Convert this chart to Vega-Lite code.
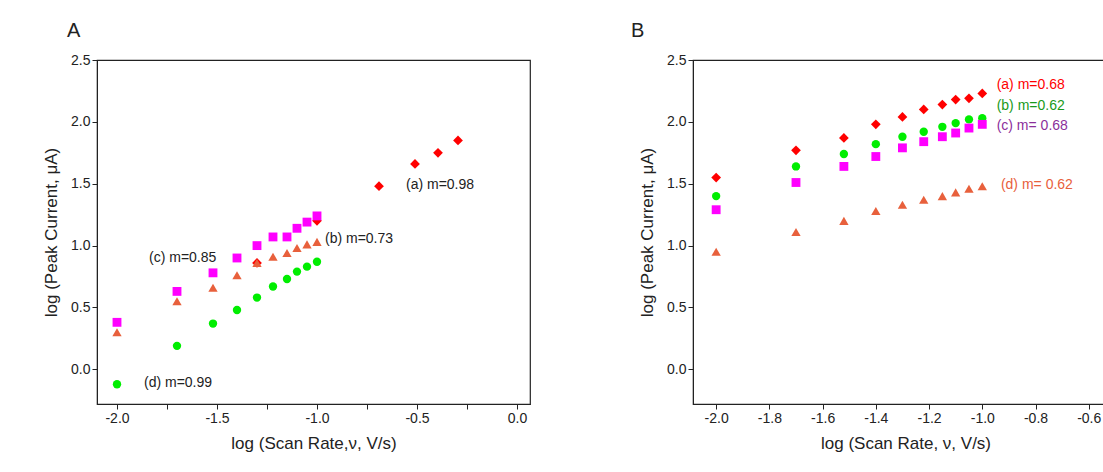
{
  "$schema": "https://vega.github.io/schema/vega-lite/v6.json",
  "background": "white",
  "padding": {"left": 41, "top": 20, "right": 0, "bottom": 5},
  "config": {
    "font": "Liberation Sans",
    "view": {"stroke": "#222", "strokeWidth": 1.2},
    "axis": {"grid": false, "labelOverlap": false, "labelFlush": false, "domainColor": "#222", "tickColor": "#222", "labelColor": "#222", "titleColor": "#222", "labelFontSize": 14, "titleFontSize": 17, "titleFontWeight": "normal", "tickSize": 5},
    "title": {"fontSize": 20, "fontWeight": "normal", "anchor": "start", "frame": "group", "color": "#222"}
  },
  "datasets": {
    "a": [
      {"s": "a", "x": -1.3, "y": 0.86}, {"s": "a", "x": -1.0, "y": 1.2}, {"s": "a", "x": -0.69, "y": 1.48}, {"s": "a", "x": -0.51, "y": 1.66}, {"s": "a", "x": -0.395, "y": 1.75}, {"s": "a", "x": -0.295, "y": 1.85},
      {"s": "c", "x": -2.0, "y": 0.38}, {"s": "c", "x": -1.7, "y": 0.63}, {"s": "c", "x": -1.52, "y": 0.78}, {"s": "c", "x": -1.4, "y": 0.9}, {"s": "c", "x": -1.3, "y": 1.0}, {"s": "c", "x": -1.22, "y": 1.07}, {"s": "c", "x": -1.15, "y": 1.07}, {"s": "c", "x": -1.1, "y": 1.14}, {"s": "c", "x": -1.05, "y": 1.19}, {"s": "c", "x": -1.0, "y": 1.24},
      {"s": "b", "x": -2.0, "y": 0.3}, {"s": "b", "x": -1.7, "y": 0.55}, {"s": "b", "x": -1.52, "y": 0.66}, {"s": "b", "x": -1.4, "y": 0.76}, {"s": "b", "x": -1.3, "y": 0.86}, {"s": "b", "x": -1.22, "y": 0.91}, {"s": "b", "x": -1.15, "y": 0.94}, {"s": "b", "x": -1.1, "y": 0.98}, {"s": "b", "x": -1.05, "y": 1.01}, {"s": "b", "x": -1.0, "y": 1.03},
      {"s": "d", "x": -2.0, "y": -0.12}, {"s": "d", "x": -1.7, "y": 0.19}, {"s": "d", "x": -1.52, "y": 0.37}, {"s": "d", "x": -1.4, "y": 0.48}, {"s": "d", "x": -1.3, "y": 0.58}, {"s": "d", "x": -1.22, "y": 0.67}, {"s": "d", "x": -1.15, "y": 0.73}, {"s": "d", "x": -1.1, "y": 0.79}, {"s": "d", "x": -1.05, "y": 0.83}, {"s": "d", "x": -1.0, "y": 0.87}
    ],
    "aLabels": [
      {"t": "(a) m=0.98", "x": -0.555, "y": 1.49},
      {"t": "(b) m=0.73", "x": -0.96, "y": 1.05},
      {"t": "(c) m=0.85", "x": -1.84, "y": 0.9},
      {"t": "(d) m=0.99", "x": -1.865, "y": -0.11}
    ],
    "b": [
      {"s": "a", "x": -2.0, "y": 1.55}, {"s": "a", "x": -1.7, "y": 1.77}, {"s": "a", "x": -1.52, "y": 1.87}, {"s": "a", "x": -1.4, "y": 1.98}, {"s": "a", "x": -1.3, "y": 2.04}, {"s": "a", "x": -1.22, "y": 2.1}, {"s": "a", "x": -1.15, "y": 2.14}, {"s": "a", "x": -1.1, "y": 2.18}, {"s": "a", "x": -1.05, "y": 2.19}, {"s": "a", "x": -1.0, "y": 2.23},
      {"s": "d", "x": -2.0, "y": 1.4}, {"s": "d", "x": -1.7, "y": 1.64}, {"s": "d", "x": -1.52, "y": 1.74}, {"s": "d", "x": -1.4, "y": 1.82}, {"s": "d", "x": -1.3, "y": 1.88}, {"s": "d", "x": -1.22, "y": 1.92}, {"s": "d", "x": -1.15, "y": 1.96}, {"s": "d", "x": -1.1, "y": 1.99}, {"s": "d", "x": -1.05, "y": 2.02}, {"s": "d", "x": -1.0, "y": 2.03},
      {"s": "c", "x": -2.0, "y": 1.29}, {"s": "c", "x": -1.7, "y": 1.51}, {"s": "c", "x": -1.52, "y": 1.64}, {"s": "c", "x": -1.4, "y": 1.72}, {"s": "c", "x": -1.3, "y": 1.79}, {"s": "c", "x": -1.22, "y": 1.84}, {"s": "c", "x": -1.15, "y": 1.88}, {"s": "c", "x": -1.1, "y": 1.91}, {"s": "c", "x": -1.05, "y": 1.95}, {"s": "c", "x": -1.0, "y": 1.98},
      {"s": "b", "x": -2.0, "y": 0.95}, {"s": "b", "x": -1.7, "y": 1.11}, {"s": "b", "x": -1.52, "y": 1.2}, {"s": "b", "x": -1.4, "y": 1.28}, {"s": "b", "x": -1.3, "y": 1.33}, {"s": "b", "x": -1.22, "y": 1.37}, {"s": "b", "x": -1.15, "y": 1.4}, {"s": "b", "x": -1.1, "y": 1.43}, {"s": "b", "x": -1.05, "y": 1.46}, {"s": "b", "x": -1.0, "y": 1.48}
    ],
    "bLabels": [
      {"t": "(a) m=0.68", "x": -0.946, "y": 2.3, "c": "a"},
      {"t": "(b) m=0.62", "x": -0.946, "y": 2.13, "c": "b"},
      {"t": "(c) m= 0.68", "x": -0.946, "y": 1.97, "c": "c"},
      {"t": "(d) m= 0.62", "x": -0.93, "y": 1.49, "c": "d"}
    ]
  },
  "hconcat": [
    {
      "title": {"text": "A", "dx": -30, "dy": -8},
      "width": 433,
      "height": 344,
      "layer": [
        {
          "data": {"name": "a"},
          "mark": {"type": "point", "filled": true, "opacity": 1},
          "encoding": {
            "x": {"field": "x", "type": "quantitative", "scale": {"domain": [-2.1, 0.065], "nice": false, "zero": false}, "axis": {"title": "log (Scan Rate,ν, V/s)", "values": [-2, -1.75, -1.5, -1.25, -1, -0.75, -0.5, -0.25, 0], "labelExpr": "abs(datum.value * 2 - round(datum.value * 2)) < 0.001 ? replace(format(datum.value, '.1f'), '−', '-') : ''", "titlePadding": 10}},
            "y": {"field": "y", "type": "quantitative", "scale": {"domain": [-0.28, 2.5], "nice": false, "zero": false}, "axis": {"title": "log (Peak Current, μA)", "values": [0, 0.5, 1, 1.5, 2, 2.5], "format": ".1f", "titlePadding": 10}},
            "shape": {"field": "s", "type": "nominal", "scale": {"domain": ["a", "b", "c", "d"], "range": ["diamond", "triangle-up", "square", "circle"]}, "legend": null},
            "size": {"field": "s", "type": "nominal", "scale": {"domain": ["a", "b", "c", "d"], "range": [95, 70, 60, 65]}, "legend": null},
            "color": {"field": "s", "type": "nominal", "scale": {"domain": ["a", "b", "c", "d"], "range": ["#ff0000", "#e8603c", "#ff00ff", "#00ee00"]}, "legend": null}
          }
        },
        {
          "data": {"name": "aLabels"},
          "mark": {"type": "text", "align": "left", "baseline": "middle", "fontSize": 14, "color": "#222"},
          "encoding": {"x": {"field": "x", "type": "quantitative"}, "y": {"field": "y", "type": "quantitative"}, "text": {"field": "t"}}
        }
      ]
    },
    {
      "title": {"text": "B", "dx": -62, "dy": -8},
      "width": 425,
      "height": 344,
      "layer": [
        {
          "data": {"name": "b"},
          "mark": {"type": "point", "filled": true, "opacity": 1},
          "encoding": {
            "x": {"field": "x", "type": "quantitative", "scale": {"domain": [-2.087, -0.49], "nice": false, "zero": false}, "axis": {"title": "log (Scan Rate, ν, V/s)", "values": [-2, -1.9, -1.8, -1.7, -1.6, -1.5, -1.4, -1.3, -1.2, -1.1, -1, -0.9, -0.8, -0.7, -0.6, -0.5], "labelExpr": "round(abs(datum.value) * 10) % 2 == 0 ? replace(format(datum.value, '.1f'), '−', '-') : ''", "titlePadding": 10}},
            "y": {"field": "y", "type": "quantitative", "scale": {"domain": [-0.28, 2.5], "nice": false, "zero": false}, "axis": {"title": "log (Peak Current, μA)", "values": [0, 0.5, 1, 1.5, 2, 2.5], "format": ".1f", "titlePadding": 10}},
            "shape": {"field": "s", "type": "nominal", "scale": {"domain": ["a", "b", "c", "d"], "range": ["diamond", "triangle-up", "square", "circle"]}, "legend": null},
            "size": {"field": "s", "type": "nominal", "scale": {"domain": ["a", "b", "c", "d"], "range": [95, 70, 60, 65]}, "legend": null},
            "color": {"field": "s", "type": "nominal", "scale": {"domain": ["a", "b", "c", "d"], "range": ["#ff0000", "#e8603c", "#ff00ff", "#00ee00"]}, "legend": null}
          }
        },
        {
          "data": {"name": "bLabels"},
          "mark": {"type": "text", "align": "left", "baseline": "middle", "fontSize": 14},
          "encoding": {
            "x": {"field": "x", "type": "quantitative"},
            "y": {"field": "y", "type": "quantitative"},
            "text": {"field": "t"},
            "color": {"field": "c", "type": "nominal", "scale": {"domain": ["a", "b", "c", "d"], "range": ["#ff0000", "#1a9a1a", "#8b2f9b", "#e8603c"]}, "legend": null}
          }
        }
      ],
      "resolve": {"scale": {"color": "independent"}}
    }
  ],
  "resolve": {"scale": {"color": "independent", "shape": "independent", "size": "independent"}},
  "spacing": 99
}
